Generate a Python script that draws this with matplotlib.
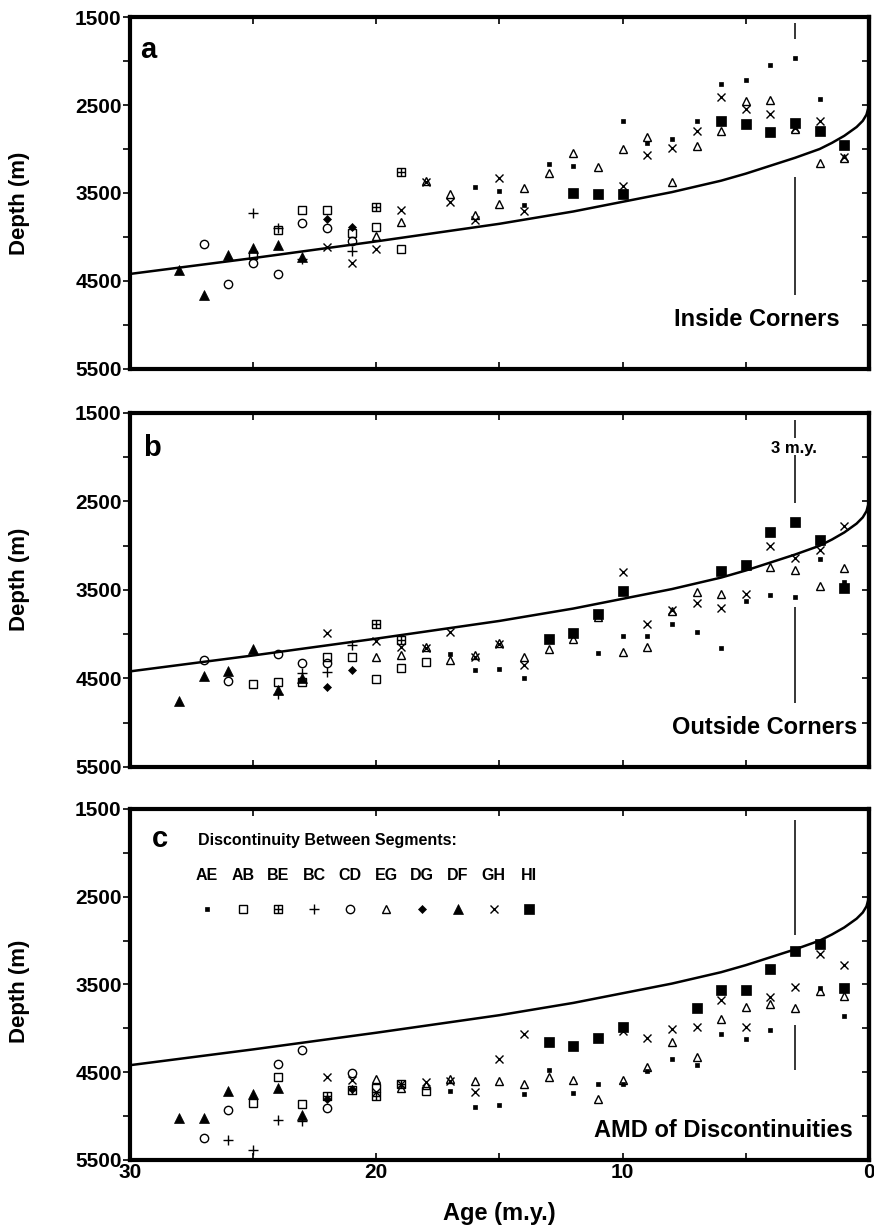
import numpy as np
import matplotlib
matplotlib.use("Agg")
from matplotlib import pyplot as plt
from matplotlib.path import Path
from matplotlib.ticker import FixedLocator

plt.rcParams['font.family'] = ['Liberation Sans', 'DejaVu Sans']
plt.rcParams['font.weight'] = 'bold'

# Reference depth-age curve
curve_age = [0, 0.1, 0.25, 0.5, 0.75, 1, 1.5, 2, 3, 4, 5, 6, 8, 10, 12, 15, 20, 25, 30]
curve_depth = [2510, 2610, 2680, 2750, 2800, 2850, 2930, 3000, 3100, 3190, 3280,
               3360, 3490, 3600, 3710, 3850, 4050, 4240, 4420]

# 3 m.y. marker line pieces (depth ranges)
mark_age = 3
a_mark = [(1570, 1750), (3320, 4660)]
b_mark = [(1580, 1780), (1980, 2520), (3690, 4780)]
c_mark = [(1630, 2940), (3960, 4470)]

segments = ['AE', 'AB', 'BE', 'BC', 'CD', 'EG', 'DG', 'DF', 'GH', 'HI']

# (age m.y., depth m)
# a - inside corners
a_AE = [(16, 3430), (15, 3480), (14, 3640), (13, 3170), (12, 3190), (10, 2680), (9, 2930),
        (8, 2890), (7, 2680), (6, 2260), (5, 2220), (4, 2050), (3, 1960), (2, 2430)]
a_AB = [(25, 4200), (24, 3920), (23, 3690), (22, 3690), (21, 3960), (20, 3890), (19, 4140)]
a_BE = [(20, 3660), (19, 3260)]
a_BC = [(25, 3730), (24, 3900), (23, 4250), (21, 4160)]
a_CD = [(27, 4080), (26, 4530), (25, 4300), (24, 4420), (23, 3840), (22, 3900), (21, 4050)]
a_EG = [(20, 3990), (19, 3830), (18, 3360), (17, 3510), (16, 3750), (15, 3620), (14, 3440),
        (13, 3270), (12, 3040), (11, 3210), (10, 3000), (9, 2860), (8, 3380), (7, 2970),
        (6, 2800), (5, 2460), (4, 2440), (3, 2770), (2, 3160), (1, 3100)]
a_DG = [(22, 3800), (21, 3890)]
a_DF = [(28, 4380), (27, 4660), (26, 4210), (25, 4120), (24, 4090), (23, 4230)]
a_GH = [(22, 4110), (21, 4290), (20, 4140), (19, 3690), (18, 3370), (17, 3600), (16, 3810),
        (15, 3330), (14, 3700), (10, 3420), (9, 3070), (8, 2985), (7, 2795), (6, 2410),
        (5, 2540), (4, 2600), (3, 2760), (2, 2680), (1, 3090)]
a_HI = [(12, 3500), (11, 3510), (10, 3510), (6, 2680), (5, 2720), (4, 2810), (3, 2710),
        (2, 2790), (1, 2960)]

# b - outside corners
b_AE = [(17, 4220), (16, 4400), (15, 4390), (14, 4500), (11, 4210), (10, 4020), (9, 4020),
        (8, 3880), (7, 3970), (6, 4160), (5, 3620), (4, 3560), (3, 3580), (2, 3150), (1, 3410)]
b_AB = [(25, 4560), (24, 4540), (23, 4540), (22, 4260), (21, 4260), (20, 4510), (19, 4380),
        (18, 4310)]
b_BE = [(20, 3890), (19, 4060)]
b_BC = [(24, 4670), (23, 4440), (22, 4430), (21, 4120)]
b_CD = [(27, 4290), (26, 4530), (24, 4220), (23, 4330), (22, 4330)]
b_EG = [(20, 4260), (19, 4230), (18, 4140), (17, 4290), (16, 4240), (15, 4100), (14, 4260),
        (13, 4170), (12, 4050), (11, 3800), (10, 4200), (9, 4140), (8, 3740), (7, 3520),
        (6, 3550), (4, 3240), (3, 3270), (2, 3460), (1, 3250)]
b_DG = [(22, 4600), (21, 4400)]
b_DF = [(28, 4750), (27, 4470), (26, 4410), (25, 4170), (24, 4630), (23, 4490)]
b_GH = [(22, 3990), (20, 4080), (19, 4150), (18, 4160), (17, 3970), (16, 4260), (15, 4110),
        (14, 4350), (10, 3300), (9, 3880), (8, 3730), (7, 3645), (6, 3705), (5, 3550),
        (4, 3000), (3, 3140), (2, 3050), (1, 2780)]
b_HI = [(13, 4050), (12, 3990), (11, 3770), (10, 3510), (6, 3290), (5, 3220), (4, 2850),
        (3, 2730), (2, 2940), (1, 3480)]

# c - AMD of discontinuities
c_AE = [(17, 4710), (16, 4900), (15, 4870), (14, 4750), (13, 4470), (12, 4740), (11, 4640),
        (10, 4640), (9, 4490), (8, 4350), (7, 4420), (6, 4070), (5, 4120), (4, 4020),
        (2, 3540), (1, 3860)]
c_AB = [(25, 4850), (24, 4560), (23, 4860), (20, 4680), (18, 4710)]
c_BE = [(22, 4770), (21, 4700), (20, 4770), (19, 4640)]
c_BC = [(26, 5270), (25, 5390), (24, 5050), (23, 5060)]
c_CD = [(27, 5250), (26, 4930), (24, 4410), (23, 4250), (22, 4910), (21, 4510)]
c_EG = [(20, 4575), (19, 4680), (18, 4650), (17, 4580), (16, 4600), (15, 4600), (14, 4630),
        (13, 4560), (12, 4590), (11, 4800), (10, 4590), (9, 4440), (8, 4150), (7, 4330),
        (6, 3890), (5, 3760), (4, 3720), (3, 3770), (2, 3570), (1, 3630)]
c_DG = [(22, 4810), (21, 4690)]
c_DF = [(28, 5020), (27, 5020), (26, 4710), (25, 4750), (24, 4680), (23, 4990)]
c_GH = [(22, 4560), (21, 4590), (20, 4730), (19, 4630), (18, 4610), (17, 4600), (16, 4730),
        (15, 4350), (14, 4070), (10, 4030), (9, 4110), (8, 4010), (7, 3990), (6, 3680),
        (5, 3990), (4, 3640), (3, 3530), (2, 3150), (1, 3280)]
c_HI = [(13, 4160), (12, 4200), (11, 4110), (10, 3980), (7, 3770), (6, 3560), (5, 3560),
        (4, 3320), (3, 3120), (2, 3040), (1, 3540)]

# square with a cross inside
boxplus = Path([(-1, -1), (1, -1), (1, 1), (-1, 1), (-1, -1), (0, -1), (0, 1), (-1, 0), (1, 0)],
               [Path.MOVETO, Path.LINETO, Path.LINETO, Path.LINETO, Path.CLOSEPOLY,
                Path.MOVETO, Path.LINETO, Path.MOVETO, Path.LINETO])

styles = {
    'AE': dict(marker='s', ms=3.2, mfc='black', mec='black', mew=0.5),
    'AB': dict(marker='s', ms=6, mfc='none', mec='black', mew=1),
    'BE': dict(marker=boxplus, ms=6, mfc='none', mec='black', mew=1),
    'BC': dict(marker='+', ms=7, mec='black', mew=1),
    'CD': dict(marker='o', ms=6, mfc='none', mec='black', mew=1),
    'EG': dict(marker='^', ms=6, mfc='none', mec='black', mew=1),
    'DG': dict(marker='D', ms=4.5, mfc='black', mec='black', mew=0.5),
    'DF': dict(marker='^', ms=6.5, mfc='black', mec='black', mew=0.5),
    'GH': dict(marker='x', ms=6, mec='black', mew=1),
    'HI': dict(marker='s', ms=6.5, mfc='black', mec='black', mew=0.5),
}

panels = [
    ('a', [a_AE, a_AB, a_BE, a_BC, a_CD, a_EG, a_DG, a_DF, a_GH, a_HI], a_mark),
    ('b', [b_AE, b_AB, b_BE, b_BC, b_CD, b_EG, b_DG, b_DF, b_GH, b_HI], b_mark),
    ('c', [c_AE, c_AB, c_BE, c_BC, c_CD, c_EG, c_DG, c_DF, c_GH, c_HI], c_mark),
]

fig = plt.figure(figsize=(8.74, 12.25), dpi=100)
rects = [[0.1487, 0.6988, 0.8455, 0.2873],
         [0.1487, 0.3739, 0.8455, 0.2890],
         [0.1487, 0.0531, 0.8455, 0.2865]]
label_y = [0.47, 0.53, 0.48]
letter_pos = [(0.0135, 0.884), (0.018, 0.879), (0.030, 0.893)]

for i, (letter, series, marks) in enumerate(panels):
    ax = fig.add_axes(rects[i])
    ax.plot(curve_age, curve_depth, color='black', lw=1.8, zorder=2)
    for lo, hi in marks:
        ax.vlines(mark_age, lo, hi, color='black', lw=1.1, zorder=2)
    for name, pts in zip(segments, series):
        ages = [p[0] for p in pts]
        depths = [p[1] for p in pts]
        ax.plot(ages, depths, linestyle='none', zorder=3, **styles[name])

    ax.set_xlim(30, 0)
    ax.set_ylim(5500, 1500)
    ax.xaxis.set_major_locator(FixedLocator([30, 20, 10, 0]))
    ax.xaxis.set_minor_locator(FixedLocator([25, 15, 5]))
    ax.yaxis.set_major_locator(FixedLocator([1500, 2500, 3500, 4500, 5500]))
    ax.yaxis.set_minor_locator(FixedLocator([2000, 3000, 4000, 5000]))
    ax.tick_params(axis='x', which='both', direction='in', top=True, bottom=True,
                   length=5, width=1.2, labelsize=15, pad=2)
    ax.tick_params(axis='y', which='both', direction='out', left=True, right=False,
                   length=5, width=1.2, labelsize=15, pad=1)
    if i < 2:
        ax.tick_params(axis='x', labelbottom=False)
    sec = ax.secondary_yaxis('right')
    sec.yaxis.set_major_locator(FixedLocator(np.arange(2000, 5500, 500)))
    sec.tick_params(axis='y', direction='in', length=5, width=1.2, labelright=False)
    sec.spines['right'].set_linewidth(3)
    for s in ax.spines.values():
        s.set_linewidth(3)

    ax.set_ylabel('Depth (m)', fontsize=16, fontweight='bold')
    ax.yaxis.set_label_coords(-0.135, label_y[i])
    ax.text(letter_pos[i][0], letter_pos[i][1], letter, transform=ax.transAxes,
            fontsize=21, fontweight='bold', ha='left', va='baseline')

    if letter == 'a':
        ax.text(0.961, 0.122, 'Inside Corners', transform=ax.transAxes,
                fontsize=17, fontweight='bold', ha='right', va='baseline')
    elif letter == 'b':
        ax.text(0.984, 0.093, 'Outside Corners', transform=ax.transAxes,
                fontsize=17, fontweight='bold', ha='right', va='baseline')
        ax.text(3.05, 1950, '3 m.y.', fontsize=12, fontweight='bold',
                ha='center', va='baseline')
    else:
        ax.text(0.978, 0.066, 'AMD of Discontinuities', transform=ax.transAxes,
                fontsize=17, fontweight='bold', ha='right', va='baseline')
        ax.set_xlabel('Age (m.y.)', fontsize=17, fontweight='bold')
        ax.xaxis.set_label_coords(0.5, -0.12)
        ax.text(0.092, 0.897, 'Discontinuity Between Segments:', transform=ax.transAxes,
                fontsize=11.5, fontweight='bold', ha='left', va='baseline')
        for k, name in enumerate(segments):
            xk = 0.104 + 0.0485 * k
            ax.text(xk, 0.798, name, transform=ax.transAxes, fontsize=11.5,
                    fontweight='bold', ha='center', va='baseline')
            ax.plot([xk], [0.715], transform=ax.transAxes, linestyle='none',
                    clip_on=False, **styles[name])

fig.savefig("out.png", dpi=100)
